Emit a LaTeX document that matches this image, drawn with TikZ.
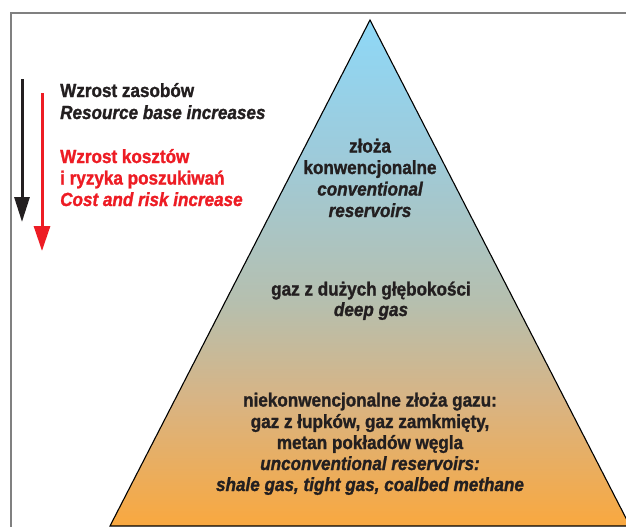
\documentclass[tikz,border=0pt]{standalone}
\usepackage{fontspec}
\setmainfont{Liberation Sans}[FakeStretch=0.9, BoldFeatures={FakeBold=1.3}, BoldItalicFeatures={FakeBold=1.3}]
\usetikzlibrary{arrows.meta}
\definecolor{txt}{HTML}{231F20}
\definecolor{redc}{HTML}{ED1C24}
\definecolor{frame}{HTML}{808080}
\definecolor{cA}{HTML}{F9A83F}
\definecolor{cB}{HTML}{D8B484}
\definecolor{cC}{HTML}{B6BFAE}
\definecolor{cD}{HTML}{9DCBDB}
\definecolor{cE}{HTML}{8ED8F7}
\pgfdeclareverticalshading{pyr}{100bp}{color(0bp)=(cA); color(25bp)=(cA); color(37.5bp)=(cB); color(47bp)=(cC); color(62bp)=(cD); color(75bp)=(cE); color(100bp)=(cE)}
\tikzset{
  lbl/.style={anchor=base, inner sep=0pt, text=txt, font=\fontsize{19}{21}\selectfont\bfseries},
  lblw/.style={lbl, anchor=base west},
  it/.style={font=\fontsize{19}{21}\selectfont\bfseries\itshape},
  bigarrow/.style={line width=3pt, -{Triangle[width=15pt,length=25pt]}}
}
\begin{document}
\begin{tikzpicture}[x=1pt,y=-1pt]
\useasboundingbox (0,0) rectangle (626,527);
% frame
\draw[frame, line width=1.6pt] (11,527) -- (11,13) -- (626,13);
% pyramid
\coordinate (apex) at (370,20);
\coordinate (bl) at (110,526);
\coordinate (br) at (630,526);
\shade[shading=pyr, draw=black, line width=1.1pt, line join=miter] (apex) -- (bl) -- (br) -- cycle;
% arrows
\coordinate (ka) at (22,79);
\coordinate (kb) at (22,222);
\coordinate (ra) at (42,93);
\coordinate (rb) at (42,251);
\draw[bigarrow, txt] (ka) -- (kb);
\draw[bigarrow, redc, -{Triangle[width=16pt,length=25pt]}] (ra) -- (rb);
% left texts
\node[lblw] (a1) at (60,97) {Wzrost zasobów};
\node[lblw, it] (a2) at (60,119) {Resource base increases};
\node[lblw, text=redc] (b1) at (60,163) {Wzrost kosztów};
\node[lblw, text=redc] (b2) at (60,184.5) {i ryzyka poszukiwań};
\node[lblw, text=redc, it] (b3) at (60,206) {Cost and risk increase};
% pyramid texts
\node[lbl] (p1) at (370,152.5) {złoża};
\node[lbl] (p2) at (370,174) {konwencjonalne};
\node[lbl, it] (p3) at (370,195.5) {conventional};
\node[lbl, it] (p4) at (370,217) {reservoirs};
\node[lbl] (q1) at (371,295.5) {gaz z dużych głębokości};
\node[lbl, it] (q2) at (371,316) {deep gas};
\node[lbl] (r1) at (370,406.5) {niekonwencjonalne złoża gazu:};
\node[lbl] (r2) at (370,428) {gaz z łupków, gaz zamkmięty,};
\node[lbl] (r3) at (370,449) {metan pokładów węgla};
\node[lbl, it] (r4) at (370,470) {unconventional reservoirs:};
\node[lbl, it] (r5) at (370,491) {shale gas, tight gas, coalbed methane};
\end{tikzpicture}
\end{document}
